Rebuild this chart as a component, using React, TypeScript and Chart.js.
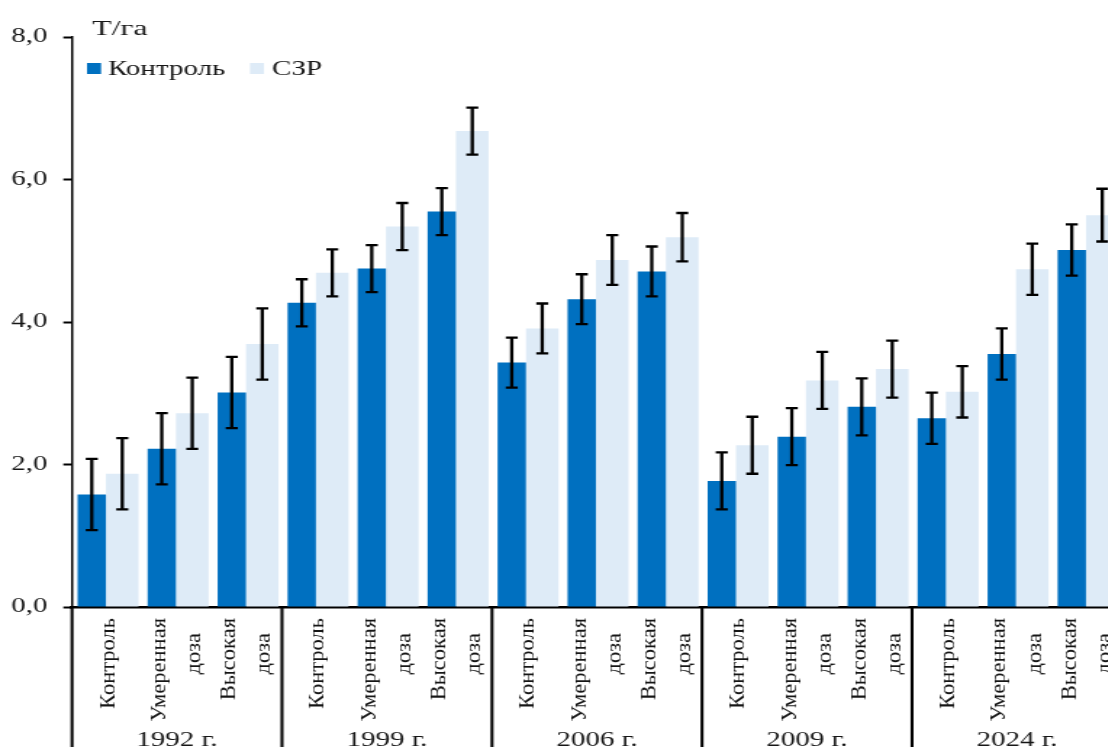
import { useEffect, useRef } from "react";
import { Chart, registerables } from "chart.js";

Chart.register(...registerables);

// Data: yield (t/ha) by year and treatment, with error margins
const years = ["1992 г.", "1999 г.", "2006 г.", "2009 г.", "2024 г."];
const treatments: string[][] = [["Контроль"], ["Умеренная", "доза"], ["Высокая", "доза"]];
const seriesNames = ["Контроль", "СЗР"];
const controlYield = [1.58, 2.22, 3.01, 4.27, 4.75, 5.55, 3.43, 4.32, 4.71, 1.77, 2.39, 2.81, 2.65, 3.55, 5.01];
const controlErr = [0.5, 0.5, 0.5, 0.33, 0.33, 0.33, 0.35, 0.35, 0.35, 0.4, 0.4, 0.4, 0.36, 0.36, 0.36];
const szrYield = [1.87, 2.72, 3.69, 4.69, 5.34, 6.68, 3.91, 4.87, 5.19, 2.27, 3.18, 3.34, 3.02, 4.74, 5.5];
const szrErr = [0.5, 0.5, 0.5, 0.33, 0.33, 0.33, 0.35, 0.35, 0.34, 0.4, 0.4, 0.4, 0.36, 0.36, 0.37];
const yTicks = [0, 2, 4, 6, 8];
const unitLabel = "Т/га";

const colors = ["#0070C0", "#DEEBF7"];
const FONT = "'Liberation Serif', 'Times New Roman', serif";
const TEXT = "#161616";

// The canvas is drawn narrow and widened by CSS, giving the wide lettering
const STRETCH = 1.45;
const CSS_W = 1160;
const CSS_H = 747;
const W = Math.round(CSS_W / STRETCH);
const H = CSS_H;
const sx = (cssX: number) => cssX / STRETCH;

const categoryLabels = years.flatMap(() => treatments.map((t) => t.join(" ")));

const errorBarsPlugin = {
  id: "errorBars",
  afterDatasetsDraw(chart: any) {
    const y = chart.scales.y;
    const ctx = chart.ctx;
    ctx.save();
    ctx.strokeStyle = "#000";
    ctx.lineWidth = 2.3;
    chart.data.datasets.forEach((ds: any, di: number) => {
      const meta = chart.getDatasetMeta(di);
      meta.data.forEach((bar: any, i: number) => {
        const v = ds.data[i];
        const e = ds.errors[i];
        const top = y.getPixelForValue(v + e);
        const bot = y.getPixelForValue(v - e);
        const cap = sx(6);
        ctx.beginPath();
        ctx.moveTo(bar.x, top);
        ctx.lineTo(bar.x, bot);
        ctx.moveTo(bar.x - cap, top);
        ctx.lineTo(bar.x + cap, top);
        ctx.moveTo(bar.x - cap, bot);
        ctx.lineTo(bar.x + cap, bot);
        ctx.stroke();
      });
    });
    ctx.restore();
  },
};

const categoryAxisPlugin = {
  id: "categoryAxis",
  afterDraw(chart: any) {
    const x = chart.scales.x;
    const ctx = chart.ctx;
    const bottom = chart.chartArea.bottom;
    const step = x.getPixelForValue(1) - x.getPixelForValue(0);
    ctx.save();
    // group separators
    ctx.strokeStyle = "#000";
    ctx.lineWidth = sx(3);
    for (let g = 0; g <= years.length; g++) {
      const px = x.getPixelForValue(g * 3) - step / 2;
      ctx.beginPath();
      ctx.moveTo(px, bottom);
      ctx.lineTo(px, H);
      ctx.stroke();
    }
    ctx.fillStyle = TEXT;
    // rotated treatment labels
    ctx.font = `22.5px ${FONT}`;
    for (let i = 0; i < categoryLabels.length; i++) {
      const lines = treatments[i % 3];
      const cx = x.getPixelForValue(i);
      lines.forEach((line, li) => {
        const offset = lines.length === 1 ? sx(1) : sx(li === 0 ? -17.5 : 17.5);
        ctx.save();
        ctx.translate(cx + offset, 618 + li * 15);
        ctx.scale(1 / STRETCH, 1);
        ctx.rotate(-Math.PI / 2);
        ctx.textAlign = "right";
        ctx.textBaseline = "middle";
        ctx.fillText(line, 0, 0);
        ctx.restore();
      });
    }
    // year labels
    ctx.font = `20px ${FONT}`;
    ctx.textAlign = "center";
    ctx.textBaseline = "alphabetic";
    years.forEach((yr, g) => {
      ctx.fillText(yr, x.getPixelForValue(g * 3 + 1), 746);
    });
    ctx.restore();
  },
};

const headerPlugin = {
  id: "header",
  afterDraw(chart: any) {
    const ctx = chart.ctx;
    ctx.save();
    ctx.fillStyle = TEXT;
    ctx.textBaseline = "alphabetic";
    ctx.textAlign = "left";
    ctx.font = `22px ${FONT}`;
    ctx.fillText(unitLabel, sx(92), 35);
    ctx.font = `20px ${FONT}`;
    const items = [
      { box: 87, text: 108 },
      { box: 250, text: 272 },
    ];
    chart.data.datasets.forEach((ds: any, i: number) => {
      const it = items[i];
      ctx.fillStyle = ds.backgroundColor;
      ctx.fillRect(sx(it.box), 63, sx(14), 11);
      ctx.fillStyle = TEXT;
      ctx.fillText(ds.label, sx(it.text), 75);
    });
    ctx.restore();
  },
};

export default function App() {
  const canvasRef = useRef<HTMLCanvasElement | null>(null);

  useEffect(() => {
    const canvas = canvasRef.current;
    if (!canvas) return;
    const plotLeft = sx(72);
    const plotRight = sx(1122);
    const chart = new Chart(canvas, {
      type: "bar",
      data: {
        labels: categoryLabels,
        datasets: [
          {
            label: seriesNames[0],
            data: controlYield,
            errors: controlErr,
            backgroundColor: colors[0],
            barPercentage: 0.93,
            categoryPercentage: 0.871,
          } as any,
          {
            label: seriesNames[1],
            data: szrYield,
            errors: szrErr,
            backgroundColor: colors[1],
            barPercentage: 1.07,
            categoryPercentage: 0.871,
          } as any,
        ],
      },
      options: {
        responsive: false,
        animation: false,
        devicePixelRatio: 1,
        layout: { padding: { left: 0, right: W - plotRight, top: 37, bottom: 0 } },
        plugins: {
          legend: { display: false },
          title: { display: false },
          tooltip: { enabled: false },
        },
        scales: {
          x: {
            type: "category",
            offset: true,
            grid: { display: false, drawTicks: false },
            border: { display: true, color: "#000", width: 2.6 },
            ticks: { display: false },
            afterFit: (scale: any) => {
              scale.height = H - 607;
            },
          },
          y: {
            min: 0,
            max: 8,
            afterBuildTicks: (scale: any) => {
              scale.ticks = yTicks.map((v) => ({ value: v }));
            },
            grid: {
              drawOnChartArea: false,
              drawTicks: true,
              tickLength: 6,
              tickWidth: 2,
              tickColor: "#000",
            },
            border: { display: true, color: "#000", width: 1.5 },
            ticks: {
              padding: 11,
              color: TEXT,
              font: { family: FONT, size: 20 },
              callback: (v: any) => Number(v).toFixed(1).replace(".", ","),
            },
            afterFit: (scale: any) => {
              scale.width = plotLeft;
            },
          },
        },
      },
      plugins: [errorBarsPlugin, categoryAxisPlugin, headerPlugin],
    });
    return () => chart.destroy();
  }, []);

  return (
    <div
      style={{
        position: "fixed",
        left: 0,
        top: 0,
        width: 1108,
        height: 747,
        overflow: "hidden",
        background: "#fff",
      }}
    >
      <canvas
        ref={canvasRef}
        width={W}
        height={H}
        style={{ width: `${CSS_W}px`, height: `${CSS_H}px`, display: "block" }}
      />
    </div>
  );
}
